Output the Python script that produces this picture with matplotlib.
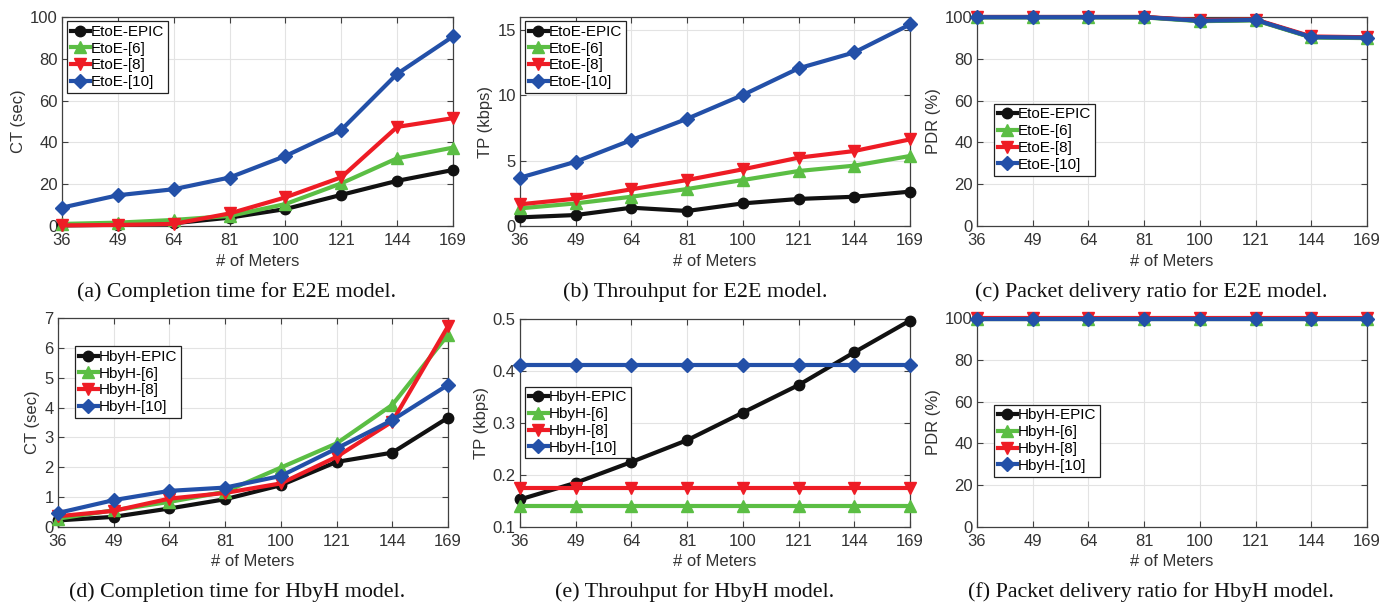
import matplotlib
matplotlib.use("Agg")
import matplotlib.pyplot as plt
import numpy as np

meters = [36, 49, 64, 81, 100, 121, 144, 169]
tick_labels = ["36", "49", "64", "81", "100", "121", "144", "169"]

# (a) Completion time, E2E
ct_e2e_epic = [0.3, 0.6, 1.3, 4.0, 8.1, 14.9, 21.6, 26.8]
ct_e2e_6 = [1.0, 1.6, 2.9, 4.8, 10.5, 20.4, 32.4, 37.5]
ct_e2e_8 = [0.3, 0.5, 1.0, 6.0, 13.7, 23.3, 47.4, 51.6]
ct_e2e_10 = [8.8, 14.7, 17.6, 23.2, 33.5, 46.0, 72.8, 90.7]

# (b) Throughput, E2E
tp_e2e_epic = [0.66, 0.84, 1.40, 1.15, 1.73, 2.07, 2.24, 2.63]
tp_e2e_6 = [1.35, 1.73, 2.24, 2.83, 3.52, 4.21, 4.62, 5.36]
tp_e2e_8 = [1.66, 2.09, 2.81, 3.52, 4.34, 5.23, 5.74, 6.63]
tp_e2e_10 = [3.70, 4.92, 6.58, 8.21, 10.03, 12.07, 13.29, 15.43]

# (c) PDR, E2E
pdr_e2e_epic = [100, 100, 100, 100, 98.2, 98.6, 90.4, 90.1]
pdr_e2e_6 = [99.8, 99.8, 99.8, 99.8, 98.0, 98.4, 90.2, 89.9]
pdr_e2e_8 = [100, 100, 100, 100, 98.5, 98.8, 90.7, 90.3]
pdr_e2e_10 = [99.9, 99.9, 99.9, 99.9, 98.2, 98.6, 90.4, 90.1]

# (d) Completion time, HbyH
ct_h_epic = [0.22, 0.34, 0.62, 0.93, 1.40, 2.18, 2.49, 3.66]
ct_h_6 = [0.28, 0.56, 0.84, 1.18, 1.99, 2.80, 4.09, 6.44]
ct_h_8 = [0.36, 0.54, 0.95, 1.14, 1.46, 2.35, 3.53, 6.72]
ct_h_10 = [0.47, 0.90, 1.21, 1.32, 1.71, 2.63, 3.58, 4.76]

# (e) Throughput, HbyH
tp_h_epic = [0.153, 0.185, 0.225, 0.267, 0.320, 0.373, 0.436, 0.497]
tp_h_6 = [0.140, 0.140, 0.140, 0.140, 0.140, 0.140, 0.140, 0.140]
tp_h_8 = [0.175, 0.175, 0.175, 0.175, 0.175, 0.175, 0.175, 0.175]
tp_h_10 = [0.411, 0.411, 0.411, 0.411, 0.411, 0.411, 0.411, 0.411]

# (f) PDR, HbyH
pdr_h_epic = [99.7, 99.7, 99.7, 99.7, 99.7, 99.7, 99.7, 99.7]
pdr_h_6 = [99.6, 99.6, 99.6, 99.6, 99.6, 99.6, 99.6, 99.6]
pdr_h_8 = [99.8, 99.8, 99.8, 99.8, 99.8, 99.8, 99.8, 99.8]
pdr_h_10 = [99.7, 99.7, 99.7, 99.7, 99.7, 99.7, 99.7, 99.7]

names_e2e = ["EtoE-EPIC", "EtoE-[6]", "EtoE-[8]", "EtoE-[10]"]
names_h = ["HbyH-EPIC", "HbyH-[6]", "HbyH-[8]", "HbyH-[10]"]

colors = ["#111111", "#5BBE44", "#EE1C25", "#2350A8"]
markers = ["o", "^", "v", "D"]
msizes = [7.5, 9, 9, 7]

captions = [
    "(a) Completion time for E2E model.",
    "(b) Throuhput for E2E model.",
    "(c) Packet delivery ratio for E2E model.",
    "(d) Completion time for HbyH model.",
    "(e) Throuhput for HbyH model.",
    "(f) Packet delivery ratio for HbyH model.",
]

W, H = 1381, 603
fig = plt.figure(figsize=(W / 100, H / 100), dpi=100)

# axes boxes in pixels: left, top, right, bottom
boxes = [
    (62, 17, 453, 226),
    (520, 17, 910, 226),
    (977, 17, 1367, 226),
    (58, 318, 448, 527),
    (520, 319, 910, 527),
    (977, 318, 1367, 527),
]
caption_x = [237, 695, 1151, 237, 695, 1151]
caption_y = [292, 292, 292, 592, 592, 592]

panels = [
    ([ct_e2e_epic, ct_e2e_6, ct_e2e_8, ct_e2e_10], names_e2e, "CT (sec)", (0, 100), [0, 20, 40, 60, 80, 100], ["0", "20", "40", "60", "80", "100"], (0.005, 0.995)),
    ([tp_e2e_epic, tp_e2e_6, tp_e2e_8, tp_e2e_10], names_e2e, "TP (kbps)", (0, 16), [0, 5, 10, 15], ["0", "5", "10", "15"], (0.005, 0.995)),
    ([pdr_e2e_epic, pdr_e2e_6, pdr_e2e_8, pdr_e2e_10], names_e2e, "PDR (%)", (0, 100), [0, 20, 40, 60, 80, 100], ["0", "20", "40", "60", "80", "100"], (0.035, 0.60)),
    ([ct_h_epic, ct_h_6, ct_h_8, ct_h_10], names_h, "CT (sec)", (0, 7), [0, 1, 2, 3, 4, 5, 6, 7], ["0", "1", "2", "3", "4", "5", "6", "7"], (0.035, 0.88)),
    ([tp_h_epic, tp_h_6, tp_h_8, tp_h_10], names_h, "TP (kbps)", (0.1, 0.5), [0.1, 0.2, 0.3, 0.4, 0.5], ["0.1", "0.2", "0.3", "0.4", "0.5"], (0.005, 0.69)),
    ([pdr_h_epic, pdr_h_6, pdr_h_8, pdr_h_10], names_h, "PDR (%)", (0, 100), [0, 20, 40, 60, 80, 100], ["0", "20", "40", "60", "80", "100"], (0.035, 0.60)),
]

axis_gray = "#404040"
tick_font = "Liberation Sans"
xpos = np.arange(len(meters))

for i, (series, names, ylabel, ylim, yt, ytl, anchor) in enumerate(panels):
    l, t, r, b = boxes[i]
    ax = fig.add_axes([l / W, 1 - b / H, (r - l) / W, (b - t) / H])
    for s, name, c, m, ms in zip(series, names, colors, markers, msizes):
        ax.plot(xpos, s, color=c, marker=m, markersize=ms, linewidth=3.0,
                label=name, markeredgecolor=c, clip_on=False, zorder=3)
    ax.set_xlim(xpos[0], xpos[-1])
    ax.set_ylim(*ylim)
    ax.set_xticks(xpos)
    ax.set_xticklabels(tick_labels)
    ax.set_yticks(yt)
    ax.set_yticklabels(ytl)
    ax.grid(True, color="#e3e3e3", linewidth=0.8)
    ax.set_axisbelow(True)
    ax.tick_params(direction="in", length=4, width=0.8, colors=axis_gray,
                   labelsize=12, top=True, right=True)
    ax.tick_params(axis="x", pad=5)
    ax.tick_params(axis="y", pad=3)
    for lab in ax.get_xticklabels() + ax.get_yticklabels():
        lab.set_fontfamily(tick_font)
        lab.set_color("#333333")
    for sp in ax.spines.values():
        sp.set_color(axis_gray)
        sp.set_linewidth(0.9)
    ax.set_xlabel("# of Meters", fontsize=12, family=tick_font, color="#333333", labelpad=4)
    ax.set_ylabel(ylabel, fontsize=12, family=tick_font, color="#333333", labelpad=3)
    leg = ax.legend(loc="upper left", bbox_to_anchor=anchor, handlelength=1.25,
                    handletextpad=0.05, borderpad=0.25, labelspacing=0.18,
                    borderaxespad=0.2, fancybox=False, framealpha=1,
                    prop={"family": tick_font, "size": 11})
    leg.get_frame().set_edgecolor("#222222")
    leg.get_frame().set_linewidth(0.9)
    fig.text(caption_x[i] / W, 1 - caption_y[i] / H, captions[i], ha="center",
             va="center", fontsize=15.8, family="Liberation Serif", color="#111111")

fig.savefig("out.png", dpi=100)
